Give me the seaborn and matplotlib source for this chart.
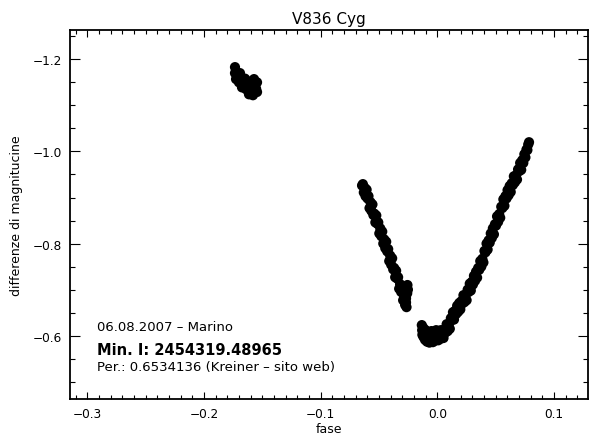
import numpy as np
import pandas as pd
import matplotlib
matplotlib.use("Agg")
import matplotlib.pyplot as plt
import seaborn as sns
from matplotlib.ticker import MultipleLocator

# ---------------- data ----------------
cluster_phase = [-0.1734, -0.1734, -0.1725, -0.1700, -0.1691, -0.1682, -0.1674, -0.1657,
                 -0.1648, -0.1639, -0.1622, -0.1614, -0.1605, -0.1597, -0.1588, -0.1580,
                 -0.1571, -0.1562, -0.1553, -0.1545, -0.1545, -0.1580, -0.1614, -0.1665,
                 -0.1700]
cluster_mag = [-1.183, -1.170, -1.157, -1.165, -1.170, -1.155, -1.139, -1.148,
               -1.158, -1.135, -1.152, -1.124, -1.139, -1.146, -1.126, -1.135,
               -1.157, -1.142, -1.136, -1.129, -1.150, -1.122, -1.130, -1.152,
               -1.150]

desc_phase = [-0.0645, -0.0638, -0.0630, -0.0622, -0.0615, -0.0606, -0.0598, -0.0590,
              -0.0581, -0.0573, -0.0565, -0.0556, -0.0548, -0.0540, -0.0531, -0.0523,
              -0.0514, -0.0506, -0.0497, -0.0489, -0.0480, -0.0472, -0.0463, -0.0455,
              -0.0446, -0.0438, -0.0429, -0.0421, -0.0412, -0.0404, -0.0395, -0.0387,
              -0.0378, -0.0370, -0.0361, -0.0353, -0.0344, -0.0336, -0.0327, -0.0319,
              -0.0310, -0.0302, -0.0293, -0.0285, -0.0276, -0.0268, -0.0258, -0.0252,
              -0.0256, -0.0264, -0.0268]
desc_mag = [-0.926, -0.929, -0.911, -0.921, -0.903, -0.917, -0.898, -0.903,
            -0.877, -0.890, -0.871, -0.885, -0.862, -0.865, -0.846, -0.861,
            -0.843, -0.846, -0.822, -0.833, -0.816, -0.826, -0.800, -0.809,
            -0.790, -0.804, -0.783, -0.788, -0.762, -0.774, -0.754, -0.768,
            -0.744, -0.747, -0.727, -0.741, -0.724, -0.727, -0.702, -0.712,
            -0.695, -0.704, -0.677, -0.687, -0.667, -0.681, -0.692, -0.700,
            -0.710, -0.662, -0.672]

min_phase = [-0.0133, -0.0130, -0.0128, -0.0120, -0.0118, -0.0110, -0.0105, -0.0100,
             -0.0095, -0.0088, -0.0082, -0.0075, -0.0068, -0.0060, -0.0052, -0.0050,
             -0.0045, -0.0038, -0.0030, -0.0022, -0.0015, -0.0010, -0.0008, 0.0000,
             0.0008, 0.0015, 0.0022, 0.0030]
min_mag = [-0.623, -0.612, -0.602, -0.617, -0.597, -0.606, -0.591, -0.612,
           -0.598, -0.587, -0.603, -0.592, -0.585, -0.598, -0.588, -0.610,
           -0.600, -0.586, -0.594, -0.589, -0.601, -0.612, -0.592, -0.598,
           -0.590, -0.604, -0.595, -0.612]

asc_phase = [0.0035, 0.0044, 0.0053, 0.0062, 0.0071, 0.0080, 0.0089, 0.0098, 0.0107, 0.0116,
             0.0125, 0.0134, 0.0143, 0.0152, 0.0161, 0.0170, 0.0179, 0.0188, 0.0197, 0.0206,
             0.0215, 0.0224, 0.0233, 0.0242, 0.0251, 0.0260, 0.0269, 0.0278, 0.0287, 0.0296,
             0.0305, 0.0314, 0.0323, 0.0332, 0.0341, 0.0350, 0.0359, 0.0368, 0.0377, 0.0386,
             0.0395, 0.0404, 0.0413, 0.0422, 0.0431, 0.0440, 0.0449, 0.0458, 0.0467, 0.0476,
             0.0485, 0.0494, 0.0503, 0.0512, 0.0521, 0.0530, 0.0539, 0.0548, 0.0557, 0.0566,
             0.0575, 0.0584, 0.0593, 0.0602, 0.0611, 0.0620, 0.0629, 0.0638, 0.0647, 0.0656,
             0.0665, 0.0674, 0.0683, 0.0692, 0.0701, 0.0710, 0.0719, 0.0728, 0.0737, 0.0746,
             0.0755, 0.0764, 0.0772, 0.0779, 0.0786]
asc_mag = [-0.594, -0.611, -0.595, -0.613, -0.607, -0.625, -0.610, -0.624, -0.615, -0.638,
           -0.634, -0.651, -0.635, -0.654, -0.647, -0.665, -0.652, -0.671, -0.657, -0.675,
           -0.670, -0.688, -0.673, -0.688, -0.677, -0.700, -0.695, -0.713, -0.698, -0.717,
           -0.711, -0.730, -0.719, -0.739, -0.726, -0.747, -0.743, -0.762, -0.750, -0.767,
           -0.759, -0.784, -0.781, -0.800, -0.787, -0.807, -0.802, -0.822, -0.812, -0.833,
           -0.820, -0.842, -0.839, -0.859, -0.847, -0.864, -0.856, -0.880, -0.877, -0.896,
           -0.882, -0.903, -0.898, -0.916, -0.905, -0.925, -0.912, -0.931, -0.927, -0.946,
           -0.933, -0.948, -0.939, -0.961, -0.957, -0.975, -0.960, -0.981, -0.975, -0.994,
           -0.987, -1.004, -1.003, -1.015, -1.020]

x_ticks = [-0.3, -0.2, -0.1, 0.0, 0.1]
x_tick_labels = ["\u22120.3", "\u22120.2", "\u22120.1", "0.0", "0.1"]
y_ticks = [-1.2, -1.0, -0.8, -0.6]
y_tick_labels = ["\u22121.2", "\u22121.0", "\u22120.8", "\u22120.6"]

title = "V836 Cyg"
x_label = "fase"
y_label = "differenze di magnitucine"
note_date = "06.08.2007 \u2013 Marino"
note_min = "Min. I: 2454319.48965"
note_per = "Per.: 0.6534136 (Kreiner \u2013 sito web)"

# ---------------- figure ----------------
sns.set_style("ticks")
plt.rcParams['font.family'] = ['DejaVu Sans']
for key in ['text.color', 'axes.labelcolor', 'xtick.color', 'ytick.color', 'axes.edgecolor']:
    plt.rcParams[key] = 'black'

fig = plt.figure(figsize=(5.92, 4.35), dpi=100)
ax = fig.add_axes([70 / 592, 1 - 400 / 435, 518.3 / 592, 369 / 435])

df = pd.DataFrame({
    "fase": np.concatenate([cluster_phase, desc_phase, min_phase, asc_phase]),
    "mag": np.concatenate([cluster_mag, desc_mag, min_mag, asc_mag]),
})
sns.scatterplot(data=df, x="fase", y="mag", color="black", s=54,
                linewidth=0, edgecolor="none", ax=ax, legend=False)

ax.set_xlim(-0.3148, 0.1294)
ax.set_ylim(-0.4626, -1.2636)

ax.set_xticks(x_ticks)
ax.set_xticklabels(x_tick_labels)
ax.set_yticks(y_ticks)
ax.set_yticklabels(y_tick_labels)
ax.xaxis.set_minor_locator(MultipleLocator(0.01))
ax.yaxis.set_minor_locator(MultipleLocator(0.05))

ax.tick_params(axis='x', which='major', direction='in', length=5.2, width=0.8,
               top=True, bottom=True, pad=6, labelsize=8.7, colors='black')
ax.tick_params(axis='x', which='minor', direction='in', length=2.6, width=0.8,
               top=True, bottom=True)
ax.tick_params(axis='y', which='major', direction='in', length=7.5, width=0.8,
               left=True, right=True, pad=6, labelsize=8.7, colors='black')
ax.tick_params(axis='y', which='minor', direction='in', length=3.7, width=0.8,
               left=True, right=True)

for sp in ax.spines.values():
    sp.set_visible(True)
    sp.set_linewidth(1.3)
    sp.set_color('black')

ax.set_title(title, fontsize=11, pad=5, color='black')
ax.set_xlabel(x_label, fontsize=9, labelpad=1, color='black')
ax.set_ylabel(y_label, fontsize=9, labelpad=7, color='black')

ax.text(0.0515, 0.188, note_date, transform=ax.transAxes, fontsize=9.5,
        va='baseline', color='black')
ax.text(0.0515, 0.122, note_min, transform=ax.transAxes, fontsize=10.5,
        fontweight='bold', va='baseline', color='black')
ax.text(0.0515, 0.079, note_per, transform=ax.transAxes, fontsize=9.5,
        va='baseline', color='black')

fig.savefig("out.png", dpi=100)
